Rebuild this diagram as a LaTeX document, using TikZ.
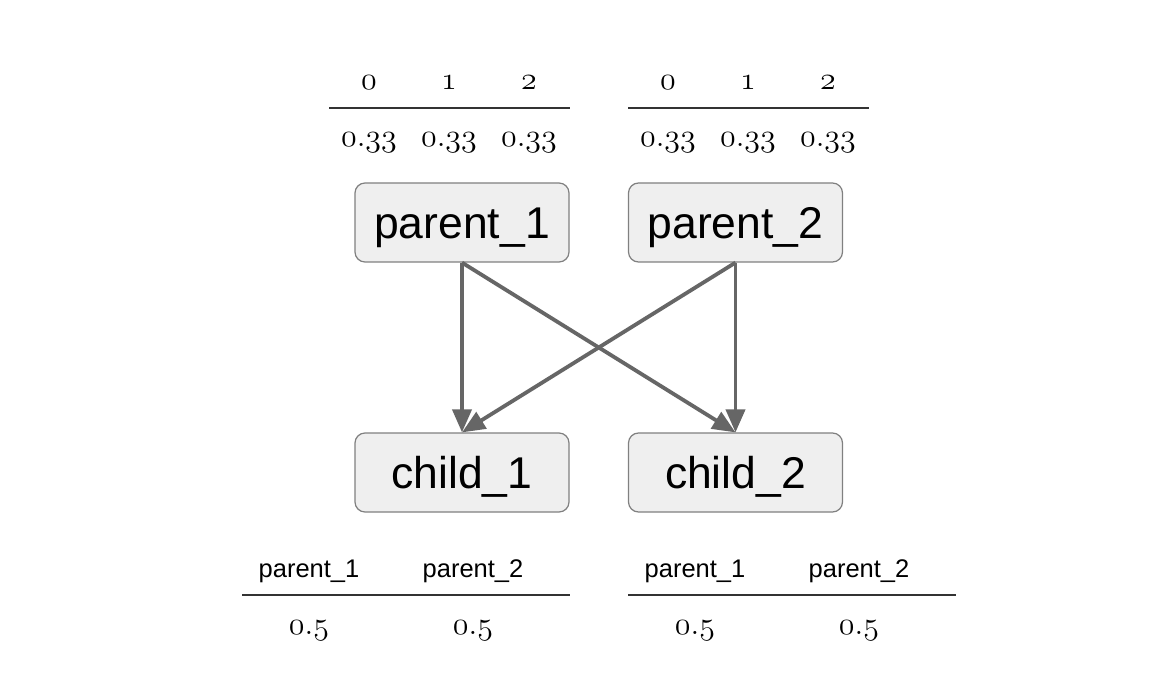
\RequirePackage{fix-cm}
\documentclass[tikz,border=0pt]{standalone}
\usepackage{fontspec}
\newfontfamily\arial{Liberation Sans}
\usetikzlibrary{arrows.meta}
\definecolor{boxfill}{HTML}{EFEFEF}
\definecolor{boxline}{HTML}{808080}
\definecolor{arrowgray}{HTML}{666666}
\definecolor{rulegray}{HTML}{333333}
\newcommand\osnum[1]{{\fontsize{32}{34}\usefont{OML}{cmm}{m}{it}#1}}
\tikzset{
  boxnode/.style={rectangle, rounded corners=10pt, fill=boxfill, draw=boxline, line width=1.2pt,
    minimum width=214pt, minimum height=79pt, inner sep=0pt,
    font=\arial\fontsize{44.5}{50}\selectfont, text height=32pt, text depth=0pt},
  link/.style={draw=arrowgray, line width=3.8pt, -{Triangle[length=23pt,width=19pt]}},
  rulerline/.style={draw=rulegray, line width=1.4pt},
  num/.style={anchor=base, inner sep=0pt},
  hdr/.style={anchor=base, inner sep=0pt, font=\arial\fontsize{25.5}{28}\selectfont}
}
\begin{document}
\begin{tikzpicture}[x=1pt, y=-1pt]
\useasboundingbox[fill=white] (0,0) rectangle (1156,676);
% top-left table
\node[num] (tl0) at (369,90) {\osnum{0}};
\node[num] (tl1) at (449,90) {\osnum{1}};
\node[num] (tl2) at (529,90) {\osnum{2}};
\draw[rulerline] (329,108) -- (570,108);
\node[num] (vl0) at (369,147) {\osnum{0\char58 33}};
\node[num] (vl1) at (449,147) {\osnum{0\char58 33}};
\node[num] (vl2) at (529,147) {\osnum{0\char58 33}};
% top-right table
\node[num] (tr0) at (668,90) {\osnum{0}};
\node[num] (tr1) at (748,90) {\osnum{1}};
\node[num] (tr2) at (828,90) {\osnum{2}};
\draw[rulerline] (628,108) -- (869,108);
\node[num] (vr0) at (668,147) {\osnum{0\char58 33}};
\node[num] (vr1) at (748,147) {\osnum{0\char58 33}};
\node[num] (vr2) at (828,147) {\osnum{0\char58 33}};
% boxes
\node[boxnode] (p1) at (462,222.5) {parent\_1};
\node[boxnode] (p2) at (735.5,222.5) {parent\_2};
\node[boxnode] (c1) at (462,472.5) {child\_1};
\node[boxnode] (c2) at (735.5,472.5) {child\_2};
% arrows
\draw[link] (p1.south) -- (c1.north);
\draw[link] (p1.south) -- (c2.north);
\draw[link] (p2.south) -- (c2.north);
\draw[link] (p2.south) -- (c1.north);
% bottom-left table
\node[hdr] (bl1) at (309,577) {parent\_1};
\node[hdr] (bl2) at (473,577) {parent\_2};
\draw[rulerline] (242,595) -- (570,595);
\node[num] (bv1) at (309,634) {\osnum{0\char58 5}};
\node[num] (bv2) at (473,634) {\osnum{0\char58 5}};
% bottom-right table
\node[hdr] (br1) at (695,577) {parent\_1};
\node[hdr] (br2) at (859,577) {parent\_2};
\draw[rulerline] (628,595) -- (956,595);
\node[num] (bw1) at (695,634) {\osnum{0\char58 5}};
\node[num] (bw2) at (859,634) {\osnum{0\char58 5}};
\end{tikzpicture}
\end{document}
